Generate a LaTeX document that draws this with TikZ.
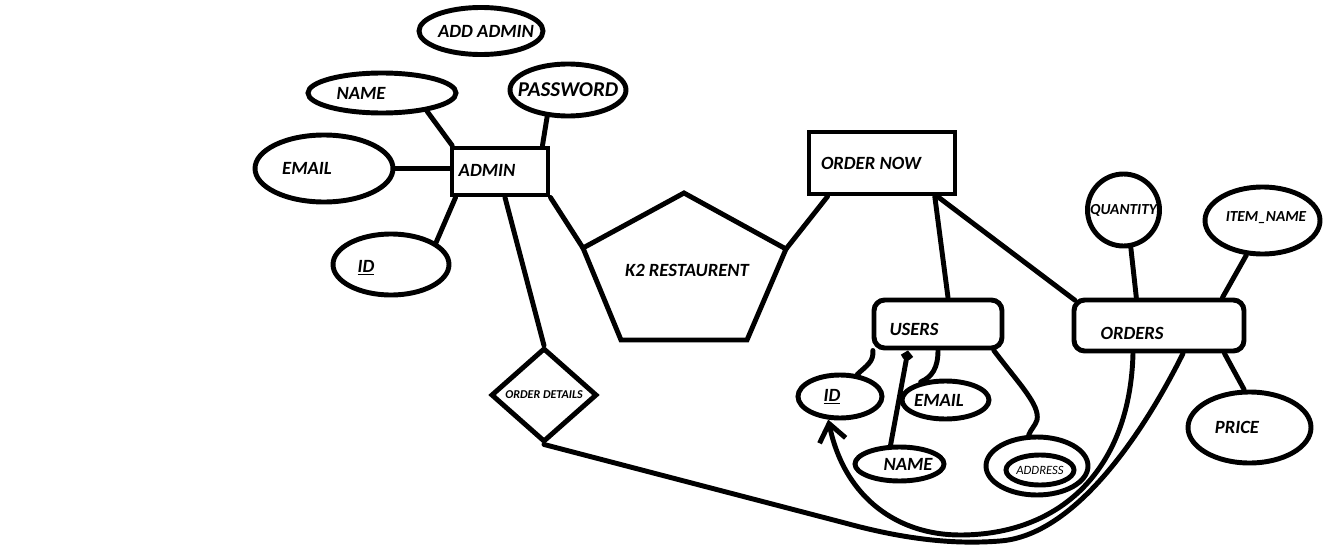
\documentclass[tikz,border=0pt]{standalone}
\usepackage{fontspec}
\setmainfont{Carlito}
\usetikzlibrary{shapes.geometric,arrows.meta,calc}
\newcommand\labfont{\fontsize{14pt}{16pt}\selectfont\bfseries\itshape}
\newcommand\bigfont{\fontsize{15.8pt}{17pt}\selectfont\bfseries\itshape}
\newcommand\midfont{\fontsize{11.5pt}{13pt}\selectfont\bfseries\itshape}
\newcommand\tinyfont{\fontsize{9pt}{10pt}\selectfont\bfseries\itshape}
\newcommand\addrfont{\fontsize{9.5pt}{10pt}\selectfont\itshape}
\begin{document}
\begin{tikzpicture}[x=0.75pt,y=-0.75pt, line width=3.7pt,
  every node/.style={font=\labfont},
  every label/.style={font=\labfont, inner sep=0pt},
  attr/.style={ellipse,draw,inner sep=0pt},
  ent/.style={rectangle,draw,inner sep=0pt},
  rent/.style={rectangle,draw,inner sep=0pt,rounded corners=8pt},
  link/.style={line cap=round}
]
\fill[white] (0,0) rectangle (1336,546);
\useasboundingbox (0,0) rectangle (1336,546);

% admin side
\node[attr, minimum width=93pt, minimum height=35.25pt, label={[xshift=3.75pt]center:ADD ADMIN}] (addadmin) at (481,31) {};
\node[attr, minimum width=111pt, minimum height=30pt, label={[xshift=-15.75pt]center:NAME}] (name1) at (382,93) {};
\node[attr, minimum width=87pt, minimum height=39pt, label={[font=\bigfont]center:PASSWORD}] (password) at (568,90) {};
\node[attr, minimum width=103.5pt, minimum height=50.25pt, label={[xshift=-12.75pt]center:EMAIL}] (email1) at (324,168.5) {};
\node[ent, minimum width=72pt, minimum height=35.25pt, label={[xshift=-9.75pt,yshift=1pt]center:ADMIN}] (admin) at (500,171.5) {};
\node[attr, minimum width=87pt, minimum height=45.75pt, label={[xshift=-18.75pt,yshift=-2.6pt]center:\underline{ID}}] (id1) at (391,264.5) {};
\node[diamond, draw, inner sep=0pt, minimum width=79.5pt, minimum height=70.5pt, label={[font=\tinyfont]center:ORDER DETAILS}] (details) at (544,395) {};

% restaurant
\coordinate (pt) at (684,193);
\coordinate (pr) at (786,249);
\coordinate (pbr) at (747,340);
\coordinate (pbl) at (621,340);
\coordinate (pl) at (583,248);
\draw (pt) -- (pr) -- (pbr) -- (pbl) -- (pl) -- cycle;
\node (k2) at (687,270) {K2 RESTAURENT};

% order side
\node[ent, minimum width=109.5pt, minimum height=46.5pt, label={[xshift=-8.25pt]center:ORDER NOW}] (ordernow) at (882,163) {};
\node[rent, minimum width=96pt, minimum height=36pt, label={[xshift=-18pt,yshift=-3.75pt]center:USERS}] (users) at (938,324) {};
\node[rent, minimum width=127.5pt, minimum height=38.25pt, label={[xshift=-20.25pt,yshift=-5.6pt]center:ORDERS}] (orders) at (1159,325.5) {};
\node[circle, draw, inner sep=0pt, minimum size=54pt, label={[font=\midfont]center:QUANTITY}] (quantity) at (1123.5,210) {};
\node[attr, minimum width=86.25pt, minimum height=50.25pt, label={[font=\midfont,xshift=2.6pt,yshift=1.9pt]center:ITEM\_NAME}] (itemname) at (1262.5,220.5) {};
\node[attr, minimum width=92.25pt, minimum height=53.25pt, label={[xshift=-9.4pt]center:PRICE}] (price) at (1249.5,427.5) {};
\node[attr, minimum width=63pt, minimum height=32.25pt, label={[xshift=-6pt]center:\underline{ID}}] (id2) at (840,396.5) {};
\node[attr, minimum width=65.25pt, minimum height=28.5pt, label={[xshift=-4.9pt]center:EMAIL}] (email2) at (945.5,400) {};
\node[attr, minimum width=66.75pt, minimum height=25.5pt, label={[xshift=6.4pt]center:NAME}] (name2) at (899.5,464) {};
\node[attr, minimum width=76.5pt, minimum height=43.5pt] (addr) at (1037,466) {};
\node[attr, minimum width=51pt, minimum height=22.5pt, label={[font=\addrfont]center:ADDRESS}] (addri) at (1040,470) {};

% connectors
\draw[link] (name1.-22) -- ([xshift=2pt]admin.north west);
\draw[link] (password.-128) -- ([xshift=-6pt]admin.north east);
\draw[link] (email1.east) -- (email1.east -| admin.west);
\draw[link] (id1.26) -- ([xshift=4.5pt]admin.south west);
\draw[link] ([xshift=3.75pt]admin.south) -- (details.north);
\draw[link] (admin.south east) -- (pl);
\draw[link] (pr) -- ([xshift=15.75pt]ordernow.south west);
\draw[link] ([xshift=-17pt]ordernow.south east) -- ([xshift=7.5pt]users.north);
\draw[link] ([xshift=-15pt]ordernow.south east) -- ([xshift=2.5pt,yshift=-2pt]orders.north west);
\draw[link] (quantity.-79) -- ([xshift=-17pt]orders.north);
\draw[link] (itemname.-115) -- ([xshift=-18pt]orders.north east);
\draw[link] ([xshift=-16.5pt]orders.south east) -- (price.98);
\draw[link] ([xshift=1pt]users.south west) .. controls (874,362) and (866,366) .. (id2.52);
\draw[link, -{Straight Barb[length=3pt,width=7pt]}] (name2.115) -- ([xshift=-22.5pt]users.south);
\draw[link] (users.south) .. controls (938,368) and (932,377) .. (email2.144);
\draw[link] ([xshift=-8pt]users.south east) .. controls (1020,385) and (1040,405) .. (1037,420) .. controls (1035,426) and (1031,429) .. (addr.105);
\draw[link, -{Straight Barb[length=13pt,width=20pt]}] ([xshift=-19.5pt]orders.south) .. controls (1130,470) and (1060,535) .. (960,535) .. controls (900,535) and (845,500) .. (id2.-117);
\draw[link] (details.south) -- (845,523) .. controls (900,538) and (950,545) .. (1000,541) .. controls (1080,535) and (1150,420) .. ([xshift=18pt]orders.south);
\end{tikzpicture}
\end{document}
